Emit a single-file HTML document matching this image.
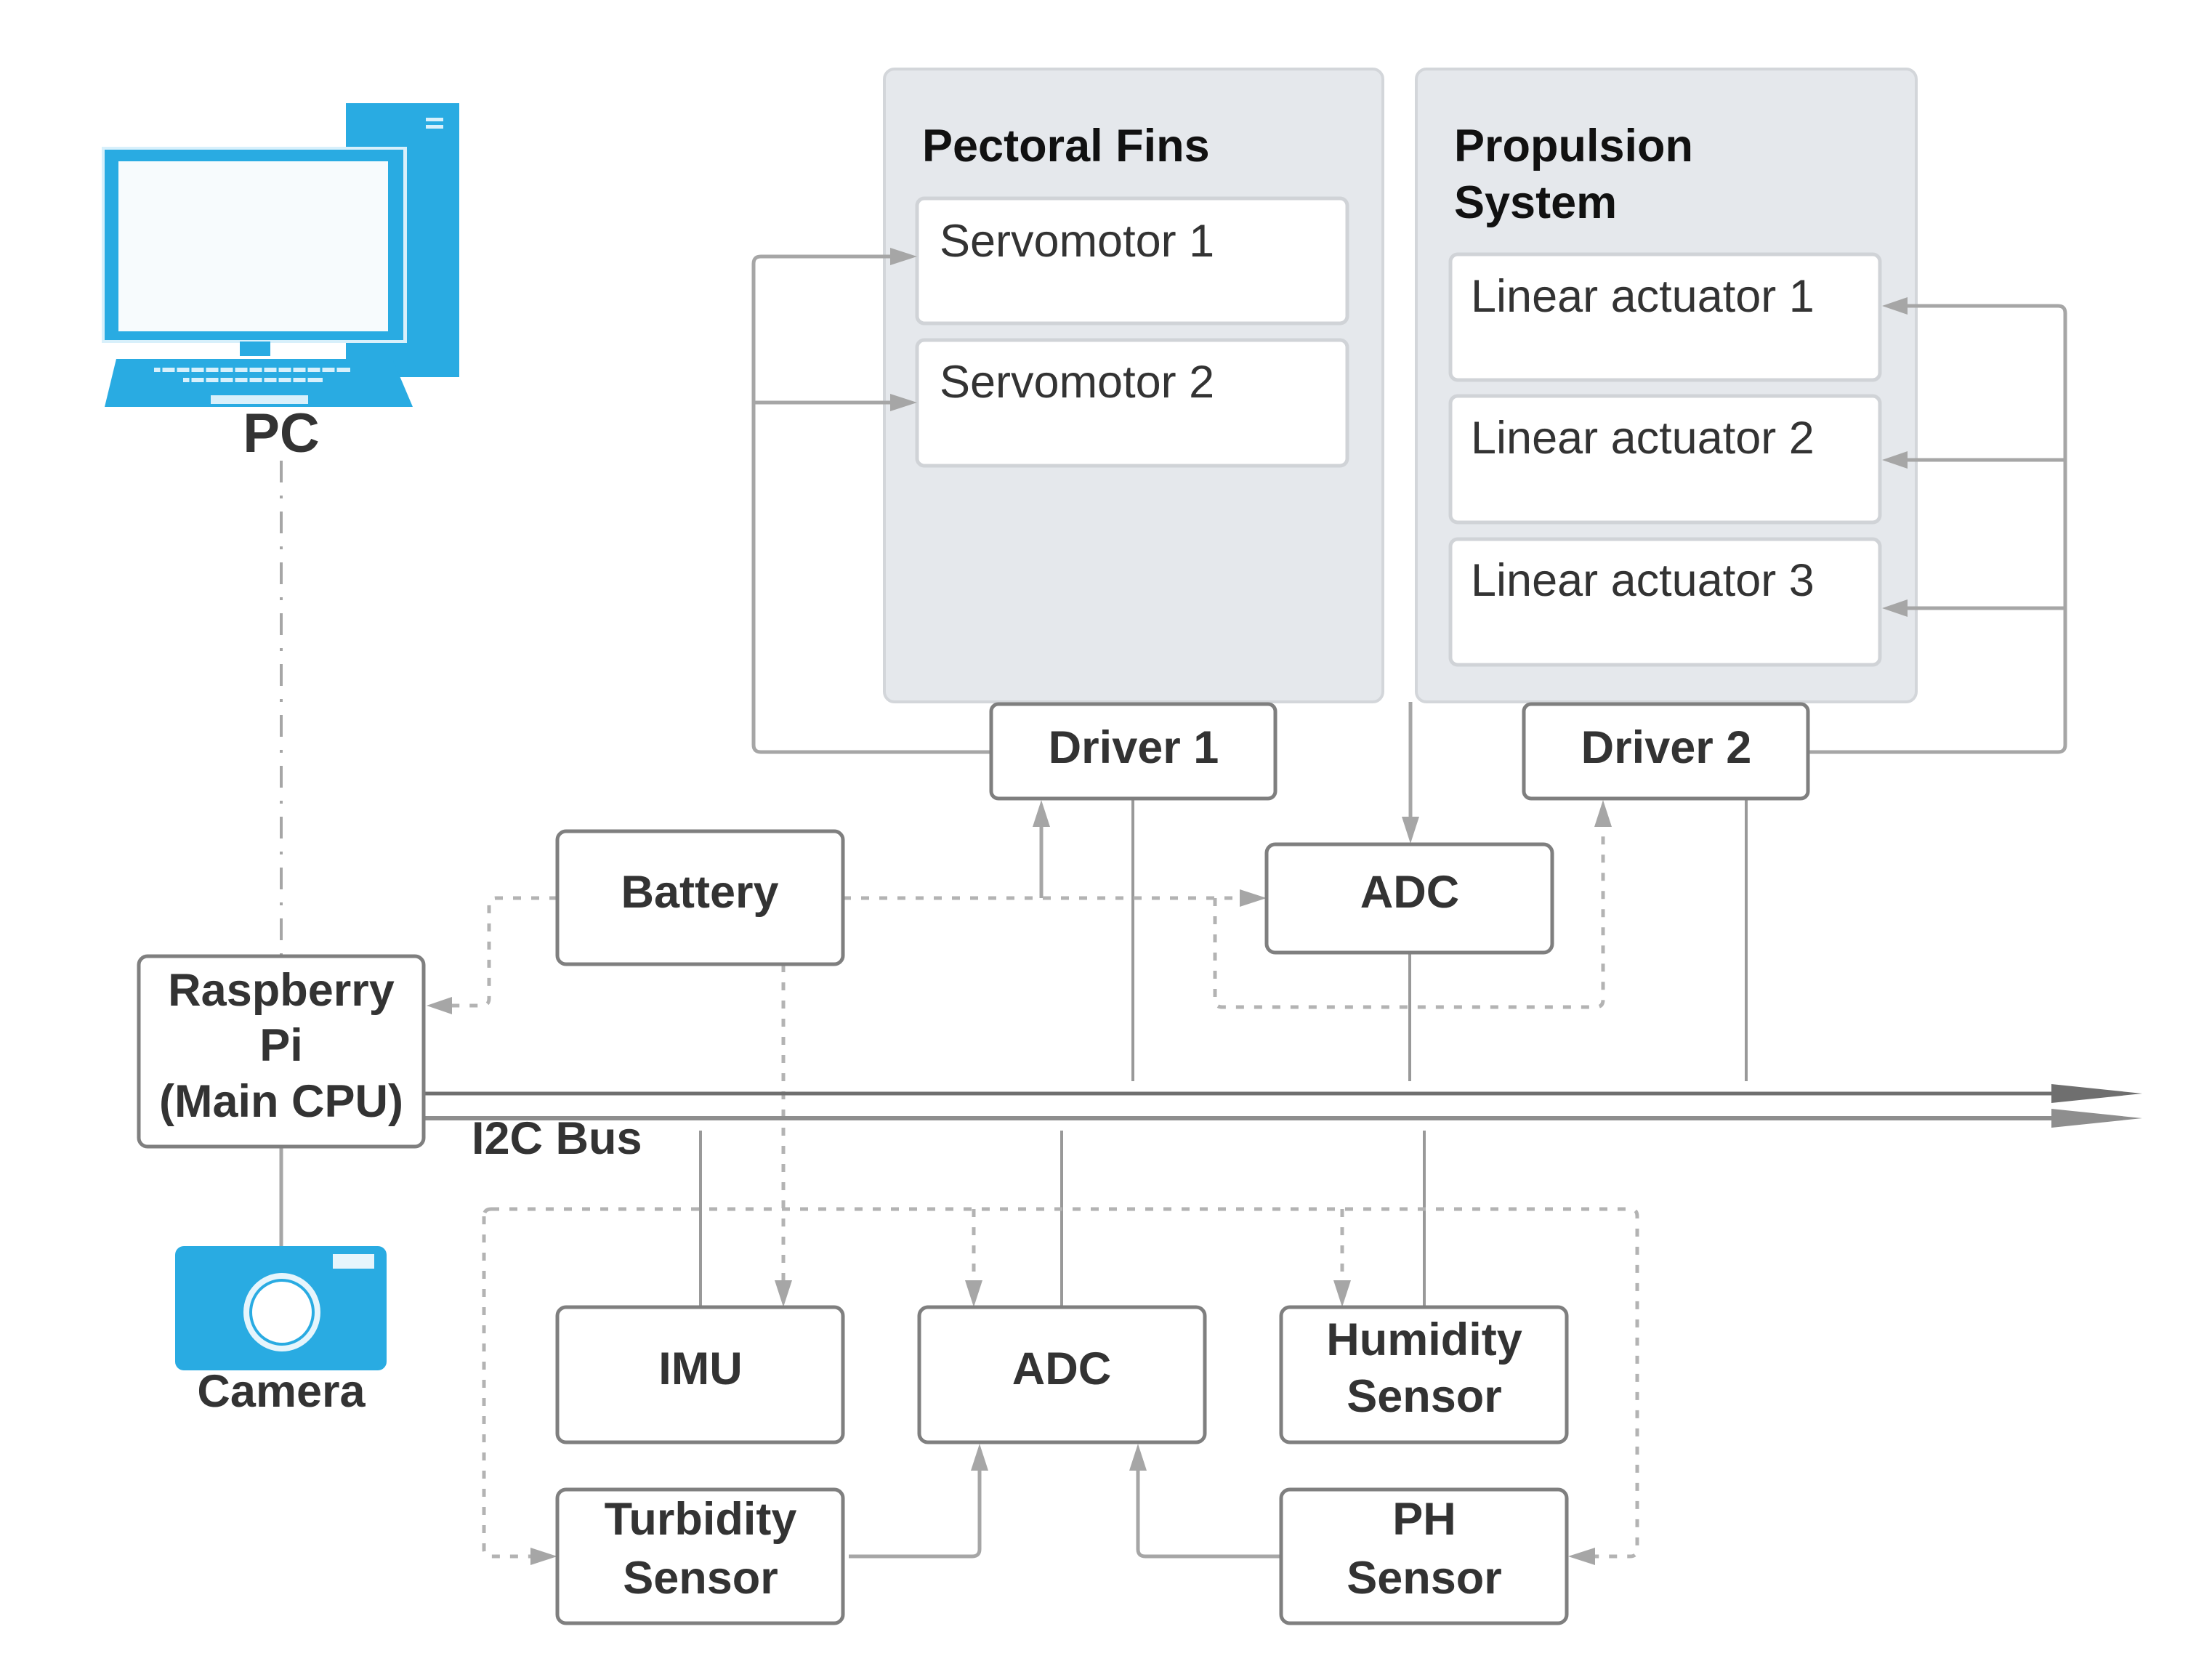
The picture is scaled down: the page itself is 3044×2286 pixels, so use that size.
<!DOCTYPE html>
<html><head><meta charset="utf-8"><style>
html,body{margin:0;padding:0;background:#fff;}
svg{display:block;}
text{font-family:"Liberation Sans",sans-serif;fill:#333;}
.b{font-weight:bold;}
</style></head><body>
<svg width="3044" height="2286" viewBox="0 0 3044 2286" xmlns="http://www.w3.org/2000/svg">
<!-- groups -->
<rect x="1217" y="95" width="686" height="871" rx="14" fill="#e5e8ec" stroke="#d3d6da" stroke-width="4"/>
<rect x="1949" y="95" width="688" height="871" rx="14" fill="#e5e8ec" stroke="#d3d6da" stroke-width="4"/>
<text x="1269" y="222" class="b" font-size="63" style="fill:#111">Pectoral Fins</text>
<text x="2001" y="222" class="b" font-size="63" style="fill:#111">Propulsion</text>
<text x="2001" y="300" class="b" font-size="63" style="fill:#111">System</text>
<g fill="#fff" stroke="#d0d3d7" stroke-width="5">
<rect x="1262" y="273" width="592" height="172" rx="10"/>
<rect x="1262" y="468" width="592" height="173" rx="10"/>
<rect x="1996" y="350" width="591" height="173" rx="10"/>
<rect x="1996" y="545" width="591" height="174" rx="10"/>
<rect x="1996" y="742" width="591" height="173" rx="10"/>
</g>
<g font-size="63">
<text x="1293" y="353">Servomotor 1</text>
<text x="1293" y="547">Servomotor 2</text>
<text x="2024" y="429">Linear actuator 1</text>
<text x="2024" y="624">Linear actuator 2</text>
<text x="2024" y="820">Linear actuator 3</text>
</g>
<!-- solid connectors -->
<g fill="none" stroke="#a6a6a6" stroke-width="5">
<path d="M1364 1035 H1047 Q1037 1035 1037 1025 V363 Q1037 353 1047 353 H1225"/>
<path d="M1037 554 H1225"/>
<path d="M2488 1035 H2832 Q2842 1035 2842 1025 V431 Q2842 421 2832 421 H2625"/>
<path d="M2842 633 H2625"/>
<path d="M2842 837 H2625"/>
<path d="M1433 1236 V1135"/>
<path d="M1941 966 V1125"/>
<path d="M1168 2142 H1338 Q1348 2142 1348 2132 V2022"/>
<path d="M1763 2142 H1576 Q1566 2142 1566 2132 V2022"/>
<path d="M387 1578 V1715"/>
</g>
<g fill="none" stroke="#999" stroke-width="4">
<path d="M1559 1101 V1488"/>
<path d="M1940 1311 V1488"/>
<path d="M2403 1101 V1488"/>
<path d="M964 1556 V1799"/>
<path d="M1461 1556 V1799"/>
<path d="M1960 1556 V1799"/>
</g>
<g fill="#a6a6a6">
<polygon points="1262,353 1225,341 1225,365"/>
<polygon points="1262,554 1225,542 1225,566"/>
<polygon points="2590,421 2625,409 2625,433"/>
<polygon points="2590,633 2625,621 2625,645"/>
<polygon points="2590,837 2625,825 2625,849"/>
<polygon points="1433,1101 1421,1138 1445,1138"/>
<polygon points="1941,1161 1929,1124 1953,1124"/>
<polygon points="1348,1987 1336,2024 1360,2024"/>
<polygon points="1566,1987 1554,2024 1578,2024"/>
</g>
<!-- dashed connectors -->
<g fill="none" stroke="#b3b3b3" stroke-width="5" stroke-dasharray="11 14">
<path d="M767 1236 H683 Q673 1236 673 1246 V1374 Q673 1384 663 1384 H620"/>
<path d="M1160 1236 H1705"/>
<path d="M1672 1236 V1376 Q1672 1386 1682 1386 H2196 Q2206 1386 2206 1376 V1138"/>
<path d="M1078 1327 V1762"/>
<path d="M676 1664 H2243 Q2253 1664 2253 1674 V2132 Q2253 2142 2243 2142 H2195"/>
<path d="M666 1674 V2132 Q666 2142 676 2142 H730"/>
<path d="M676 1664 Q666 1664 666 1674"/>
<path d="M1340 1664 V1762"/>
<path d="M1847 1664 V1762"/>
</g>
<g fill="#a6a6a6">
<polygon points="587,1384 622,1372 622,1396"/>
<polygon points="1743,1236 1706,1224 1706,1248"/>
<polygon points="2206,1101 2194,1138 2218,1138"/>
<polygon points="1078,1799 1066,1762 1090,1762"/>
<polygon points="1340,1799 1328,1762 1352,1762"/>
<polygon points="1847,1799 1835,1762 1859,1762"/>
<polygon points="767,2142 730,2130 730,2154"/>
<polygon points="2158,2142 2195,2130 2195,2154"/>
</g>
<!-- PC dash-dot -->
<path d="M387 634 V1316" stroke="#a6a6a6" stroke-width="4" fill="none" stroke-dasharray="30 18 4 18"/>
<!-- I2C bus -->
<path d="M583 1505 H2835" stroke="#6f6f6f" stroke-width="5"/>
<path d="M583 1539 H2835" stroke="#8e8e8e" stroke-width="6"/>
<polygon points="2823,1492 2948,1505 2823,1518" fill="#6f6f6f"/>
<polygon points="2823,1526 2948,1539 2823,1552" fill="#8e8e8e"/>
<text x="649" y="1588" class="b" font-size="63">I2C Bus</text>
<!-- boxes -->
<g fill="#fff" stroke="#7f7f7f" stroke-width="5">
<rect x="1364" y="969" width="391" height="130" rx="10"/>
<rect x="2097" y="969" width="391" height="130" rx="10"/>
<rect x="767" y="1144" width="393" height="183" rx="12"/>
<rect x="1743" y="1162" width="393" height="149" rx="12"/>
<rect x="191" y="1316" width="392" height="262" rx="12"/>
<rect x="767" y="1799" width="393" height="186" rx="12"/>
<rect x="1265" y="1799" width="393" height="186" rx="12"/>
<rect x="1763" y="1799" width="393" height="186" rx="12"/>
<rect x="767" y="2050" width="393" height="184" rx="12"/>
<rect x="1763" y="2050" width="393" height="184" rx="12"/>
</g>
<g class="b" font-size="63" text-anchor="middle">
<text x="1560" y="1050">Driver 1</text>
<text x="2293" y="1050">Driver 2</text>
<text x="963" y="1249">Battery</text>
<text x="1940" y="1249">ADC</text>
<text x="387" y="1384">Raspberry</text>
<text x="387" y="1460">Pi</text>
<text x="387" y="1537">(Main CPU)</text>
<text x="964" y="1905">IMU</text>
<text x="1461" y="1905">ADC</text>
<text x="1960" y="1865">Humidity</text>
<text x="1960" y="1943">Sensor</text>
<text x="964" y="2112">Turbidity</text>
<text x="964" y="2193">Sensor</text>
<text x="1960" y="2112">PH</text>
<text x="1960" y="2193">Sensor</text>
<text x="387" y="1936">Camera</text>
<text x="387" y="622" font-size="76">PC</text>
</g>
<!-- PC icon -->
<rect x="476" y="142" width="156" height="377" fill="#29abe2"/>
<rect x="586" y="162" width="24" height="5" fill="#d8f0fb"/>
<rect x="586" y="172" width="24" height="5" fill="#d8f0fb"/>
<rect x="140" y="202" width="420" height="270" fill="#d8f0fb"/>
<rect x="144" y="206" width="411" height="262" fill="#29abe2"/>
<rect x="163" y="222" width="371" height="234" fill="#f7fbfd"/>
<rect x="330" y="470" width="42" height="20" fill="#29abe2"/>
<polygon points="160,494 540,494 568,560 144,560" fill="#29abe2"/>
<g fill="#d8f0fb">
<rect x="212" y="506" width="270" height="6" stroke="#29abe2" stroke-width="0"/>
<rect x="252" y="520" width="192" height="6"/>
<rect x="290" y="544" width="134" height="12"/>
</g>
<g stroke="#29abe2" stroke-width="3">
<path d="M222 506 V512 M242 506 V512 M262 506 V512 M282 506 V512 M302 506 V512 M322 506 V512 M342 506 V512 M362 506 V512 M382 506 V512 M402 506 V512 M422 506 V512 M442 506 V512 M462 506 V512"/>
<path d="M262 520 V526 M282 520 V526 M302 520 V526 M322 520 V526 M342 520 V526 M362 520 V526 M382 520 V526 M402 520 V526 M422 520 V526"/>
</g>
<!-- Camera icon -->
<rect x="241" y="1715" width="291" height="171" rx="12" fill="#29abe2"/>
<rect x="458" y="1726" width="57" height="20" fill="#e6f5fc"/>
<ellipse cx="388" cy="1806" rx="53" ry="54" fill="#e6f5fc"/>
<ellipse cx="388" cy="1806" rx="45" ry="46" fill="#29abe2"/>
<ellipse cx="388" cy="1806" rx="41" ry="42" fill="#fff"/>
</svg>
</body></html>
